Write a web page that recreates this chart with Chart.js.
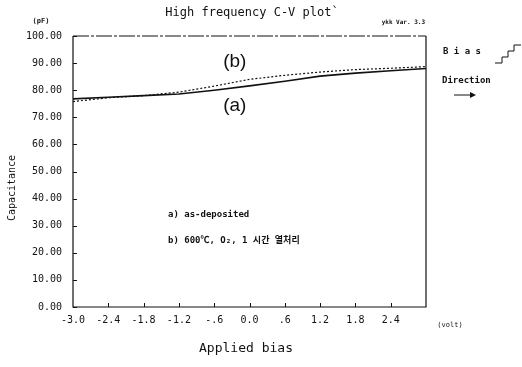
<!DOCTYPE html>
<html>
<head>
<meta charset="utf-8">
<script src="https://cdn.jsdelivr.net/npm/chart.js@4/dist/chart.umd.min.js"></script>
<style>
  html, body { margin: 0; padding: 0; background: #fff; }
  #cv { display: block; }
</style>
</head>
<body>
<canvas id="cv" width="522" height="367"></canvas>
<script>
// Applied bias (volt) and capacitance (pF)
const biasVolts = [-3.0, -2.4, -1.8, -1.2, -0.6, 0.0, 0.6, 1.2, 1.8, 2.4, 3.0];
const asDeposited = [76.8, 77.4, 78.0, 78.6, 80.0, 81.6, 83.3, 85.2, 86.3, 87.2, 88.0];
const annealed = [75.8, 77.2, 78.0, 79.3, 81.5, 84.0, 85.5, 86.7, 87.6, 88.1, 88.7];
const yTicks = [0, 10, 20, 30, 40, 50, 60, 70, 80, 90, 100];
const xTickLabels = ['-3.0', '-2.4', '-1.8', '-1.2', '-.6', '0.0', '.6', '1.2', '1.8', '2.4', ''];
const curveTags = [
    { text: '(b)', x: -0.25, y: 90.4 },
    { text: '(a)', x: -0.25, y: 74.2 }
];

const MONO = '"DejaVu Sans Mono", "Liberation Mono", monospace';
const INK = '#111';

function toPoints(values) {
    return biasVolts.map((v, i) => ({ x: v, y: values[i] }));
}

/**
 * Draws the frame, the inward tick marks and all the loose text of the plot
 */
const decorations = {
    id: 'decorations',
    afterDraw(chart) {
        const ctx = chart.ctx;
        const a = chart.chartArea;
        const xs = chart.scales.x;
        const ys = chart.scales.y;
        ctx.save();
        ctx.strokeStyle = INK;
        ctx.fillStyle = INK;

        // frame: solid left, bottom, right; broken top line
        ctx.lineWidth = 1.2;
        ctx.beginPath();
        ctx.moveTo(a.left, a.top);
        ctx.lineTo(a.left, a.bottom);
        ctx.lineTo(a.right, a.bottom);
        ctx.lineTo(a.right, a.top);
        ctx.stroke();
        ctx.lineWidth = 1;
        ctx.setLineDash([16, 2, 3, 2]);
        ctx.beginPath();
        ctx.moveTo(a.left, a.top);
        ctx.lineTo(a.right, a.top);
        ctx.stroke();
        ctx.setLineDash([]);

        // inward tick marks
        ctx.lineWidth = 1;
        yTicks.forEach(t => {
            const py = Math.round(ys.getPixelForValue(t)) + 0.5;
            ctx.beginPath();
            ctx.moveTo(a.left, py);
            ctx.lineTo(a.left + 4, py);
            ctx.stroke();
        });
        biasVolts.slice(1, -1).forEach(v => {
            const px = Math.round(xs.getPixelForValue(v)) + 0.5;
            ctx.beginPath();
            ctx.moveTo(px, a.bottom);
            ctx.lineTo(px, a.bottom - 4);
            ctx.stroke();
        });

        // curve tags
        ctx.font = '19px "Liberation Sans", Arial, sans-serif';
        ctx.textAlign = 'center';
        ctx.textBaseline = 'middle';
        curveTags.forEach(tag => {
            ctx.fillText(tag.text, xs.getPixelForValue(tag.x), ys.getPixelForValue(tag.y));
        });

        // title and small labels
        ctx.font = '12px ' + MONO;
        ctx.fillText('High frequency C-V plot`', 252, 13);

        ctx.font = 'bold 7px ' + MONO;
        ctx.fillText('(pF)', 41, 21);
        ctx.textAlign = 'right';
        ctx.font = 'bold 6px ' + MONO;
        ctx.fillText('ykk Var. 3.3', 425, 22);

        ctx.textAlign = 'left';
        ctx.font = 'bold 9px ' + MONO;
        ctx.fillText('B i a s', 443, 52);
        ctx.fillText('Direction', 442, 81);

        // staircase glyph
        ctx.lineWidth = 1;
        ctx.beginPath();
        ctx.moveTo(495, 63);
        ctx.lineTo(502, 63);
        ctx.lineTo(502, 57);
        ctx.lineTo(508, 57);
        ctx.lineTo(508, 51);
        ctx.lineTo(514, 51);
        ctx.lineTo(514, 45);
        ctx.lineTo(521, 45);
        ctx.stroke();

        // direction arrow
        ctx.beginPath();
        ctx.moveTo(454, 95);
        ctx.lineTo(474, 95);
        ctx.stroke();
        ctx.beginPath();
        ctx.moveTo(476, 95);
        ctx.lineTo(470, 92);
        ctx.lineTo(470, 98);
        ctx.closePath();
        ctx.fill();

        // legend text inside the plot
        ctx.font = 'bold 9px ' + MONO;
        ctx.fillText('a) as-deposited', 168, 215);
        ctx.font = 'bold 9px "DejaVu Sans Mono", "Noto Sans CJK KR", monospace';
        ctx.fillText('b) 600\u2103, O\u2082, 1 시간 열처리', 168, 241);

        // axis titles
        ctx.font = '13px ' + MONO;
        ctx.textAlign = 'center';
        ctx.fillText('Applied bias', 246, 349);
        ctx.font = '7px ' + MONO;
        ctx.fillText('(volt)', 450, 325);

        ctx.save();
        ctx.translate(12, 188);
        ctx.rotate(-Math.PI / 2);
        ctx.font = '10px ' + MONO;
        ctx.fillText('Capacitance', 0, 0);
        ctx.restore();

        ctx.restore();
    }
};

new Chart(document.getElementById('cv'), {
    type: 'line',
    data: {
        datasets: [
            {
                label: 'a) as-deposited',
                data: toPoints(asDeposited),
                borderColor: INK,
                borderWidth: 1.6,
                pointRadius: 0,
                tension: 0
            },
            {
                label: 'b) annealed',
                data: toPoints(annealed),
                borderColor: INK,
                borderWidth: 1.2,
                borderDash: [2, 2],
                pointRadius: 0,
                tension: 0
            }
        ]
    },
    options: {
        responsive: false,
        animation: false,
        layout: { padding: { top: 36, right: 96, left: 0, bottom: 0 } },
        plugins: {
            legend: { display: false },
            tooltip: { enabled: false },
            title: { display: false }
        },
        scales: {
            x: {
                type: 'linear',
                min: -3,
                max: 3,
                grid: { display: false, drawTicks: false },
                border: { display: false },
                afterBuildTicks(scale) {
                    scale.ticks = biasVolts.map(v => ({ value: v }));
                },
                afterFit(scale) { scale.height = 60; },
                ticks: {
                    padding: 7,
                    maxRotation: 0,
                    autoSkip: false,
                    color: INK,
                    font: { family: MONO, size: 10 },
                    callback: function(value, index) {
                        return xTickLabels[index];
                    }
                }
            },
            y: {
                min: 0,
                max: 100,
                grid: { display: false, drawTicks: false },
                border: { display: false },
                afterBuildTicks(scale) {
                    scale.ticks = yTicks.map(v => ({ value: v }));
                },
                afterFit(scale) { scale.width = 73; },
                ticks: {
                    padding: 11,
                    color: INK,
                    font: { family: MONO, size: 10 },
                    callback: function(value) {
                        return value.toFixed(2);
                    }
                }
            }
        }
    },
    plugins: [decorations]
});
</script>
</body>
</html>
